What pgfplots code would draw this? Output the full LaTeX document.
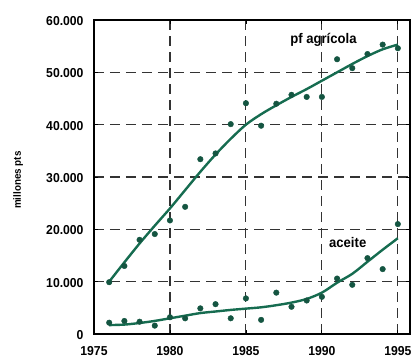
\documentclass[border=0pt]{standalone}
\usepackage{pgfplots}
\pgfplotsset{compat=1.18}
\usepackage{fontspec}
\setmainfont{Liberation Sans}[FakeStretch=0.94]
\definecolor{vg}{RGB}{22,108,80}
\definecolor{dg}{RGB}{20,85,65}
\begin{document}
\begin{tikzpicture}
\begin{axis}[
  scale only axis, width=316bp, height=314bp,
  at={(0,0)}, anchor=south west,
  xmin=1975, xmax=1995.8, ymin=0, ymax=60000,
  scaled y ticks=false, scaled x ticks=false,
  xtick={1975,1980,1985,1990,1995},
  xticklabels={1975,1980,1985,1990,1995},
  ytick={0,10000,20000,30000,40000,50000,60000},
  yticklabels={0,10.000,20.000,30.000,40.000,50.000,60.000},
  ticklabel style={font=\fontsize{13}{14}\selectfont\bfseries},
  xticklabel style={yshift=-9bp},
  yticklabel style={xshift=-7bp, yshift=-1bp},
  tick style={black, line width=0.8bp},
  major tick length=4bp,
  tick pos=both,
  grid=major,
  major grid style={dash pattern=on 10bp off 6bp, line width=1.1bp, black!80},
  axis line style={line width=1.3bp, black},
  ylabel={\fontsize{10.5}{11}\selectfont\bfseries millones pts},
  ylabel style={at={(axis description cs:-0.24,0.49)}, anchor=center, rotate=0},
  clip=false,
]
% pf agricola data
\addplot[only marks, mark=*, mark size=2.8bp, dg, mark options={fill=dg, draw=dg}] coordinates {
(1976,9900) (1977,13000) (1978,18000) (1979,19100) (1980,21700) (1981,24300)
(1982,33400) (1983,34500) (1984,40100) (1985,44100) (1986,39800) (1987,44000)
(1988,45700) (1989,45300) (1990,45300) (1991,52500) (1992,50800) (1993,53500)
(1994,55300) (1995,54600)};
\addplot[vg, line width=2.4bp, smooth] coordinates {
(1976,10000) (1977,13700) (1978,17300) (1979,20700) (1980,24000) (1981,27500)
(1982,31000) (1983,34300) (1984,37300) (1985,40000) (1986,42000) (1987,43700)
(1988,45300) (1989,46800) (1990,48400) (1991,50000) (1992,51600) (1993,53100)
(1994,54400) (1995,55300)};
% aceite data
\addplot[only marks, mark=*, mark size=2.8bp, dg, mark options={fill=dg, draw=dg}] coordinates {
(1976,2160) (1977,2490) (1978,2350) (1979,1600) (1980,3200) (1981,3000)
(1982,4900) (1983,5700) (1984,3000) (1985,6800) (1986,2700) (1987,7900)
(1988,5200) (1989,6400) (1990,7100) (1991,10600) (1992,9400) (1993,14500)
(1994,12400) (1995,21000)};
\addplot[vg, line width=2.4bp, smooth] coordinates {
(1976,1700) (1977,1800) (1978,2100) (1979,2500) (1980,3000) (1981,3500)
(1982,4000) (1983,4300) (1984,4600) (1985,4850) (1986,5100) (1987,5500)
(1988,6000) (1989,6700) (1990,7900) (1991,9800) (1992,11500) (1993,13800)
(1994,16100) (1995,18300)};
\node[font=\fontsize{14}{15}\selectfont\bfseries, anchor=center] at (axis cs:1990.1,56300) {pf agrícola};
\node[font=\fontsize{14}{15}\selectfont\bfseries, anchor=center] at (axis cs:1991.7,17400) {aceite};
\end{axis}
\pgfresetboundingbox
\path[use as bounding box] (-94bp,-25bp) rectangle (318bp,334bp);
\end{tikzpicture}
\end{document}
